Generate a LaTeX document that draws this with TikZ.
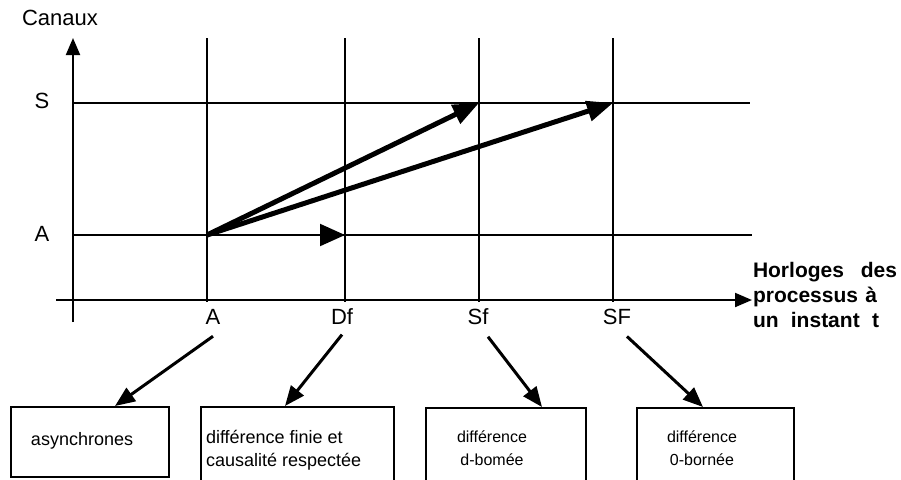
\documentclass[tikz,border=0pt]{standalone}
\usepackage{fontspec}
\setmainfont{Liberation Sans}
\usetikzlibrary{arrows.meta,positioning}

\begin{document}
\begin{tikzpicture}[x=0.5pt,y=-0.5pt,line width=1pt,font=\fontsize{11}{13}\selectfont,
  axis/.style={-{Triangle[length=8.5pt,width=7pt]}},
  msg/.style={line width=2.5pt,-{Triangle[length=13pt,width=10pt]}},
  pointer/.style={line width=1.5pt,-{Triangle[length=10pt,width=8pt]}},
  cadre/.style={draw,line width=1pt,anchor=north west,inner sep=0pt},
  legende/.style={anchor=north west,align=left,inner sep=0pt,font=\fontsize{9}{11.5}\selectfont}]
  \clip (0,0) rectangle (901,479);

  % axes
  \coordinate (ybot) at (73,322);
  \coordinate (ytop) at (73,38);
  \coordinate (xleft) at (56,300);
  \coordinate (xend) at (752,300);
  \draw[axis] (ybot) -- (ytop);
  \draw[axis] (xleft) -- (xend);

  % grille
  \foreach \x in {207,345,479,613}
    \draw (\x,38) -- (\x,302);
  \draw (73,103) -- (750,103);
  \draw (73,235) -- (752,235);

  % messages
  \coordinate (A0) at (207,235);
  \coordinate (DfA) at (345,235);
  \coordinate (SfS) at (479,103);
  \coordinate (SFS) at (613,103);
  \draw[-{Triangle[length=12.5pt,width=11pt]}] (A0) -- (DfA);
  \draw[msg] (A0) -- (SfS);
  \draw[msg] (A0) -- (SFS);

  % etiquettes
  \node (canaux) at (60,18) {Canaux};
  \node (chS) at (42,101) {S};
  \node (chA) at (42,234) {A};
  \node (hA) at (213,317) {A};
  \node (hDf) at (342,317) {Df};
  \node (hSf) at (478,317) {Sf};
  \node (hSF) at (617,317) {SF};
  \node[anchor=north west,align=left,inner sep=0pt,
        font=\bfseries\fontsize{10.5}{12.5}\selectfont] (horloges) at (752,261)
    {\makebox[72pt][s]{Horloges des}\\\makebox[62pt][s]{processus à}\\\makebox[63pt][s]{un instant t}};

  % cadres
  \node[cadre,minimum width=79pt,minimum height=35pt] (b1) at (10,406) {};
  \node[cadre,minimum width=96.5pt,minimum height=45pt] (b2) at (200,406) {};
  \node[cadre,minimum width=80pt,minimum height=45pt] (b3) at (425,407) {};
  \node[cadre,minimum width=78.5pt,minimum height=45pt] (b4) at (636,407) {};

  \node[legende] (t1) at (30,431) {asynchrones};
  \node[legende] (t2) at (205,429) {différence finie et\\causalité respectée};
  \node[legende,align=center,font=\fontsize{8}{11.5}\selectfont] (t3) at (456,430) {différence\\d-bomée};
  \node[legende,align=center,font=\fontsize{8}{11.5}\selectfont] (t4) at (666,430) {différence\\0-bornée};

  \draw[pointer] ([yshift=-2pt]hA.south) -- ([xshift=52.5pt]b1.north west);
  \draw[pointer] ([yshift=-1pt]hDf.south) -- ([xshift=42.5pt]b2.north west);
  \draw[pointer] ([xshift=5pt,yshift=-2pt]hSf.south) -- ([xshift=58.5pt]b3.north west);
  \draw[pointer] ([xshift=5pt,yshift=-2pt]hSF.south) -- ([xshift=33.5pt]b4.north west);
\end{tikzpicture}
\end{document}
